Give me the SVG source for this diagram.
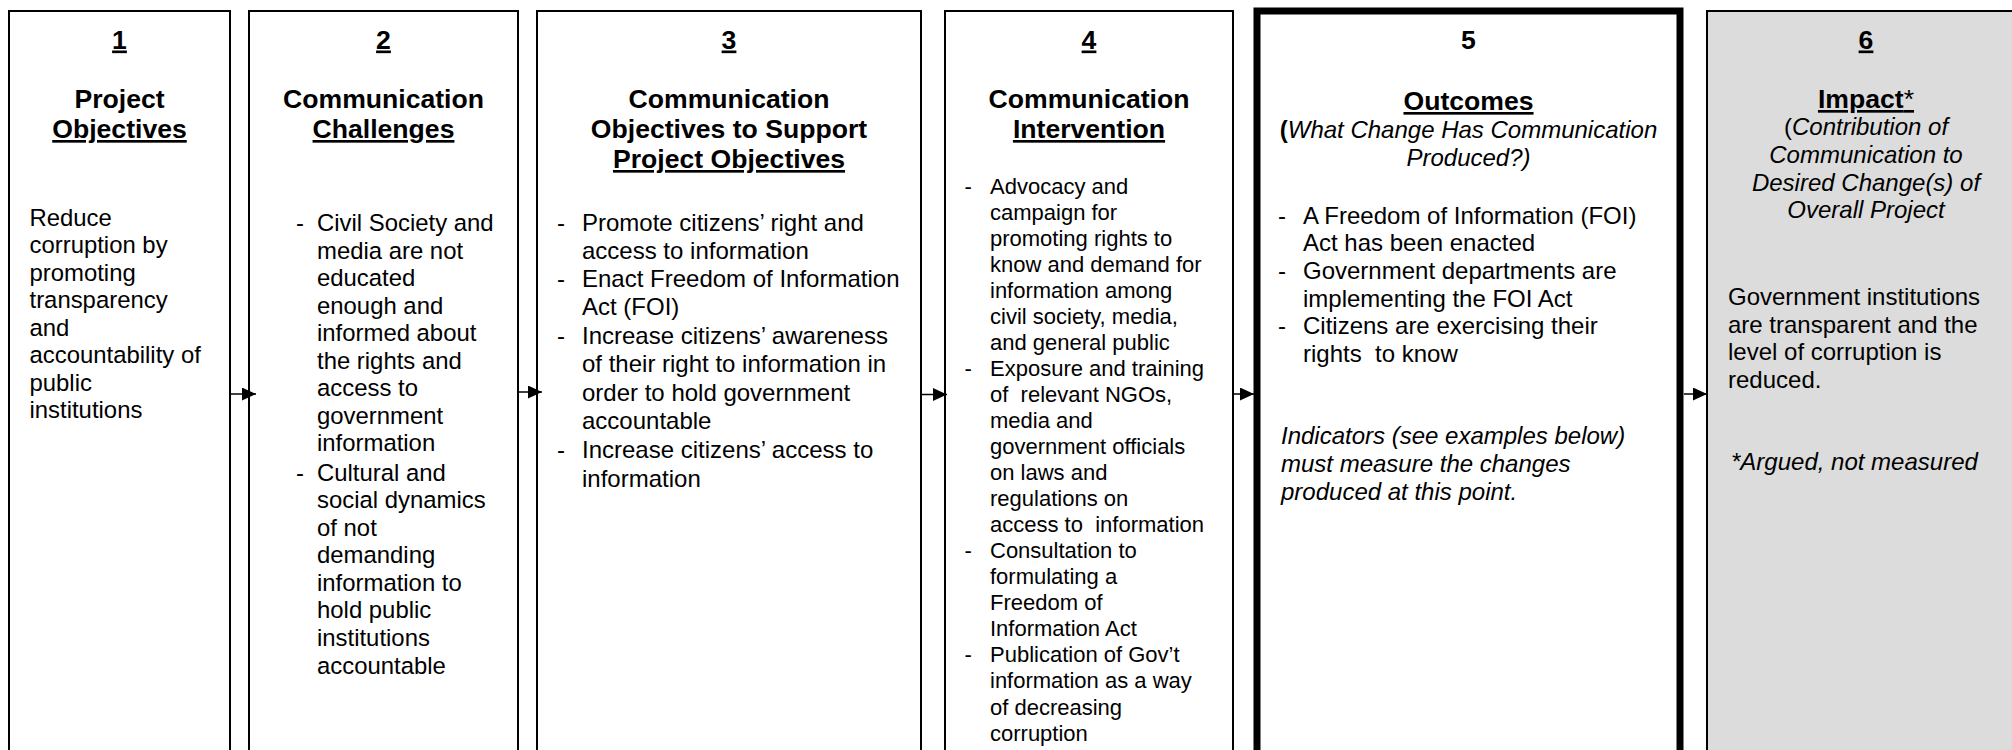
<svg xmlns="http://www.w3.org/2000/svg" width="2012" height="750" viewBox="0 0 2012 750">
<style>
text{font-family:"Liberation Sans",Arial,sans-serif;fill:#000}
.box{fill:#fff;stroke:#000;stroke-width:2}
.thick{fill:#fff;stroke:#000;stroke-width:7}
.grey{fill:#dcdcdc;stroke:#000;stroke-width:2}
.h{font-weight:bold;font-size:26.6px;text-anchor:middle}
.u{text-decoration:underline}
.b23{font-size:23.9px}
.b24{font-size:24px}
.b22{font-size:22px}
.it{font-style:italic}
.sub{font-size:24px;text-anchor:middle}
.sub6{font-size:24px;text-anchor:middle}
.conn{stroke:#000;stroke-width:1.5;fill:none}
</style>
<defs>
<marker id="ah" markerUnits="userSpaceOnUse" markerWidth="15" markerHeight="13" refX="14" refY="6.5" orient="auto">
<path d="M0,0 L14,6.5 L0,13 z" fill="#000"/>
</marker>
</defs>
<rect width="2012" height="750" fill="#fff"/>

<g id="node1">
<rect class="box" x="9" y="11" width="221" height="760"/>
<text class="h" x="119.5" y="48.5"><tspan class="u">1</tspan></text>
<text class="h" x="119.5" y="108">Project</text>
<text class="h" x="119.5" y="138"><tspan class="u">Objectives</tspan></text>
<g class="b23">
<text x="29.5" y="225.5">Reduce</text>
<text x="29.5" y="253">corruption by</text>
<text x="29.5" y="280.5">promoting</text>
<text x="29.5" y="308">transparency</text>
<text x="29.5" y="335.5">and</text>
<text x="29.5" y="363">accountability of</text>
<text x="29.5" y="390.5">public</text>
<text x="29.5" y="418">institutions</text>
</g>
</g>

<g id="node2">
<rect class="box" x="249" y="11" width="269" height="760"/>
<text class="h" x="383.5" y="48.5"><tspan class="u">2</tspan></text>
<text class="h" x="383.5" y="108">Communication</text>
<text class="h" x="383.5" y="138"><tspan class="u">Challenges</tspan></text>
<g class="b23">
<text x="296" y="231">-</text>
<text x="317" y="231">Civil Society and</text>
<text x="317" y="258.5">media are not</text>
<text x="317" y="286">educated</text>
<text x="317" y="313.5">enough and</text>
<text x="317" y="341">informed about</text>
<text x="317" y="368.5">the rights and</text>
<text x="317" y="396">access to</text>
<text x="317" y="423.5">government</text>
<text x="317" y="451">information</text>
<text x="296" y="480.5">-</text>
<text x="317" y="480.5">Cultural and</text>
<text x="317" y="508">social dynamics</text>
<text x="317" y="535.5">of not</text>
<text x="317" y="563">demanding</text>
<text x="317" y="590.5">information to</text>
<text x="317" y="618">hold public</text>
<text x="317" y="645.5">institutions</text>
<text x="317" y="673.5">accountable</text>
</g>
</g>

<g id="node3">
<rect class="box" x="537" y="11" width="384" height="760"/>
<text class="h" x="729" y="48.5"><tspan class="u">3</tspan></text>
<text class="h" x="729" y="108">Communication</text>
<text class="h" x="729" y="138">Objectives to Support</text>
<text class="h" x="729" y="168"><tspan class="u">Project Objectives</tspan></text>
<g class="b24">
<text x="557" y="231">-</text>
<text x="582" y="231">Promote citizens’ right and</text>
<text x="582" y="258.5">access to information</text>
<text x="557" y="287">-</text>
<text x="582" y="287">Enact Freedom of Information</text>
<text x="582" y="315">Act (FOI)</text>
<text x="557" y="344">-</text>
<text x="582" y="344">Increase citizens’ awareness</text>
<text x="582" y="372">of their right to information in</text>
<text x="582" y="401">order to hold government</text>
<text x="582" y="429">accountable</text>
<text x="557" y="458">-</text>
<text x="582" y="458">Increase citizens’ access to</text>
<text x="582" y="486.5">information</text>
</g>
</g>

<g id="node4">
<rect class="box" x="945" y="11" width="288" height="760"/>
<text class="h" x="1089" y="48.5"><tspan class="u">4</tspan></text>
<text class="h" x="1089" y="108">Communication</text>
<text class="h" x="1089" y="138"><tspan class="u">Intervention</tspan></text>
<g class="b22">
<text x="964.5" y="193.5">-</text>
<text x="990" y="193.5">Advocacy and</text>
<text x="990" y="219.5">campaign for</text>
<text x="990" y="245.6">promoting rights to</text>
<text x="990" y="271.6">know and demand for</text>
<text x="990" y="297.7">information among</text>
<text x="990" y="323.7">civil society, media,</text>
<text x="990" y="349.8">and general public</text>
<text x="964.5" y="375.8">-</text>
<text x="990" y="375.8">Exposure and training</text>
<text x="990" y="401.9" xml:space="preserve">of  relevant NGOs,</text>
<text x="990" y="427.9">media and</text>
<text x="990" y="454">government officials</text>
<text x="990" y="480">on laws and</text>
<text x="990" y="506.1">regulations on</text>
<text x="990" y="532.1" xml:space="preserve">access to  information</text>
<text x="964.5" y="558.2">-</text>
<text x="990" y="558.2">Consultation to</text>
<text x="990" y="584.2">formulating a</text>
<text x="990" y="610.3">Freedom of</text>
<text x="990" y="636.3">Information Act</text>
<text x="964.5" y="662.4">-</text>
<text x="990" y="662.4">Publication of Gov’t</text>
<text x="990" y="688.4">information as a way</text>
<text x="990" y="714.5">of decreasing</text>
<text x="990" y="740.5">corruption</text>
</g>
</g>

<g id="node5">
<rect class="thick" x="1257" y="11" width="423" height="760"/>
<text class="h" x="1468.5" y="48.5">5</text>
<text class="h" x="1468.5" y="110"><tspan class="u">Outcomes</tspan></text>
<text class="sub" x="1468.5" y="138.3"><tspan font-weight="bold">(</tspan><tspan class="it">What Change Has Communication</tspan></text>
<text class="sub it" x="1468.5" y="165.7">Produced?)</text>
<g class="b24">
<text x="1278" y="223.5">-</text>
<text x="1303" y="223.5">A Freedom of Information (FOI)</text>
<text x="1303" y="251.2">Act has been enacted</text>
<text x="1278" y="279">-</text>
<text x="1303" y="279">Government departments are</text>
<text x="1303" y="306.7">implementing the FOI Act</text>
<text x="1278" y="334.3">-</text>
<text x="1303" y="334.3">Citizens are exercising their</text>
<text x="1303" y="362" xml:space="preserve">rights  to know</text>
</g>
<g class="b24 it">
<text x="1281" y="444.3">Indicators (see examples below)</text>
<text x="1281" y="472">must measure the changes</text>
<text x="1281" y="499.5">produced at this point.</text>
</g>
</g>

<g id="node6">
<rect class="grey" x="1707" y="11" width="317" height="760"/>
<text class="h" x="1866" y="48.5"><tspan class="u">6</tspan></text>
<text class="h" x="1866" y="108"><tspan class="u">Impact<tspan font-weight="normal">*</tspan></tspan></text>
<text class="sub6" x="1866" y="135">(<tspan class="it">Contribution of</tspan></text>
<text class="sub6 it" x="1866" y="163">Communication to</text>
<text class="sub6 it" x="1866" y="190.7">Desired Change(s) of</text>
<text class="sub6 it" x="1866" y="218.3">Overall Project</text>
<g class="b24">
<text x="1728" y="305">Government institutions</text>
<text x="1728" y="332.7">are transparent and the</text>
<text x="1728" y="360">level of corruption is</text>
<text x="1728" y="387.5">reduced.</text>
</g>
<text class="b24 it" x="1731" y="470">*Argued, not measured</text>
</g>

<g id="connectors">
<line class="conn" x1="231" y1="394" x2="256" y2="394" marker-end="url(#ah)"/>
<line class="conn" x1="519" y1="392" x2="542" y2="392" marker-end="url(#ah)"/>
<line class="conn" x1="922" y1="394.5" x2="947" y2="394.5" marker-end="url(#ah)"/>
<line class="conn" x1="1234" y1="394" x2="1254" y2="394" marker-end="url(#ah)"/>
<line class="conn" x1="1684" y1="394" x2="1707" y2="394" marker-end="url(#ah)"/>
</g>
</svg>
